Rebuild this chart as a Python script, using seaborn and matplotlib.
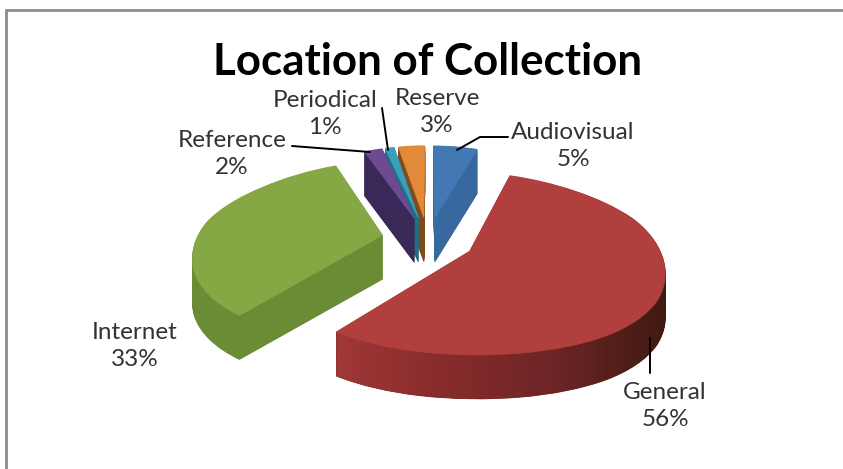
import numpy as np
import matplotlib
matplotlib.use('Agg')
import matplotlib.pyplot as plt
from matplotlib.colors import LinearSegmentedColormap
from matplotlib.patches import PathPatch
from matplotlib.path import Path
from matplotlib.transforms import Affine2D, Transform
import seaborn as sns

# Data
categories = ['Audiovisual', 'General', 'Internet', 'Reference', 'Periodical', 'Reserve']
shares = [5, 56, 33, 2, 1, 3]
title = 'Location of Collection'

top_colors = ['#4279b5', '#b13f3d', '#85a845', '#6d4a93', '#3a9fbc', '#e3893a']
side_colors = ['#37689e', '#7c2523', '#6a8c35', '#3a2858', '#206f86', '#7d4c1e']
general_wall = ['#a53a3a', '#8a2c2c', '#6e2526', '#3e1a12']

sns.set_theme(style='white')
plt.rcParams['font.family'] = ['Lato', 'DejaVu Sans']


# fake perspective: the back of the pie gets smaller
class Perspective(Transform):
    input_dims = 2
    output_dims = 2

    def transform_non_affine(self, values):
        values = np.asarray(values, dtype=float)
        v = values[:, 1]
        sx = 1 - 0.2 * v
        sy = np.where(v > 0, 1 - 0.26 * (1 - np.exp(-3 * v)), 1 - 0.12 * v - 0.08 * v ** 2)
        return np.column_stack([values[:, 0] * sx, v * sy])


fig = plt.figure(figsize=(8.43, 4.69), dpi=100)
ax = fig.add_axes([0, 0, 1, 1])

explode = [0.25] * len(shares)
depth_steps = np.linspace(0.44, 0, 60)
general_paths = []
for d in depth_steps:
    colors = top_colors if d == 0 else side_colors
    drop = Affine2D().translate(0, -d)
    wedges, _ = ax.pie(shares, explode=explode, colors=colors, startangle=90,
                       counterclock=False, radius=1,
                       wedgeprops={'linewidth': 0.6}, labeldistance=None)
    for w in wedges:
        w.set_edgecolor(w.get_facecolor())
        w.set_transform(Perspective() + drop + ax.transData)
        w.set_zorder(3 if d == 0 else 1)
    general_paths.append((Perspective() + drop).transform_path(wedges[1].get_path()))

# shade the General wall, darker towards the right
wall_cmap = LinearSegmentedColormap.from_list('wall', general_wall)
im = ax.imshow(np.linspace(0, 1, 256).reshape(1, -1), cmap=wall_cmap, zorder=2,
               extent=(-0.6, 1.3, -2, 0.5), aspect='auto')
wall_patch = PathPatch(Path.make_compound_path(*general_paths), transform=ax.transData)
im.set_clip_path(wall_patch)

# 1 pie unit = 186 px across, 100 px up
ax.set_aspect('auto')
ax.set_xlim((0 - 428) / 186, (843 - 428) / 186)
ax.set_ylim((239 - 469) / 100, 239 / 100)
ax.axis('off')

# overlay in picture pixels for the text and leader lines
over = fig.add_axes([0, 0, 1, 1], facecolor='none')
over.set_xlim(0, 843)
over.set_ylim(469, 0)
over.axis('off')

over.plot([6, 6], [10, 469], color='#8c8c8c', lw=2)
over.plot([6, 843], [10, 10], color='#8c8c8c', lw=2)

over.text(428, 62, title, ha='center', va='center', fontsize=31.6, fontweight='bold', color='black')

labels = [(573, 146), (665, 406), (135, 346), (232, 154), (325, 114), (437, 112)]
for name, share, (x, y) in zip(categories, shares, labels):
    over.text(x, y, f'{name}\n{share}%', ha='center', va='center', fontsize=17.5,
              color='#333333', linespacing=1.3)

over.plot([457, 480, 508], [150, 137, 137], color='black', lw=1.4)
over.plot([292, 370], [146, 152], color='black', lw=1.4)
over.plot([382, 388], [108, 150], color='black', lw=1.4)
over.plot([650, 650], [338, 373], color='black', lw=1.4)

plt.savefig('out.png', dpi=100)
